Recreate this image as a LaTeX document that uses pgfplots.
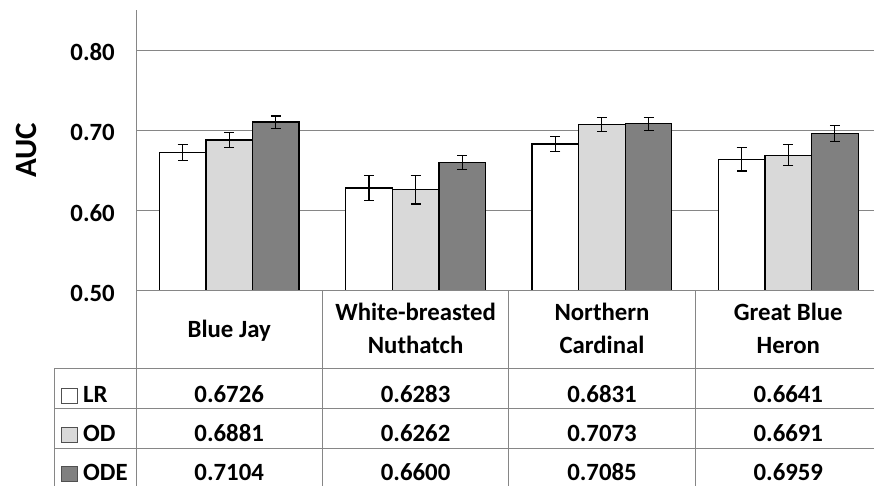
\documentclass[border=0pt]{standalone}
\usepackage{pgfplots}
\pgfplotsset{compat=1.18}
\usepackage{pgfplotstable}
\usepackage{fontspec}
\setmainfont{Carlito}
\definecolor{gridc}{RGB}{134,134,134}
\definecolor{odc}{RGB}{217,217,217}
\definecolor{odec}{RGB}{128,128,128}
\definecolor{keyc}{RGB}{80,80,80}
\pgfplotstableread{
x LR LRe OD ODe ODE ODEe
0 0.6726 0.0098 0.6881 0.0090 0.7104 0.0075
1 0.6283 0.0154 0.6262 0.0178 0.6600 0.0085
2 0.6831 0.0091 0.7073 0.0091 0.7085 0.0081
3 0.6641 0.0146 0.6691 0.0131 0.6959 0.0098
}\data
\newcommand{\tf}{\fontsize{24.8}{29}\selectfont\bfseries}
\begin{document}
\begin{tikzpicture}[x=1pt,y=1pt]
\begin{axis}[
  at={(136pt,195pt)}, anchor=south west,
  scale only axis, width=745.5pt, height=281pt,
  ybar=0pt, bar width=0.25,
  xmin=-0.5, xmax=3.5, ymin=0.5, ymax=0.85,
  xtick=\empty,
  ytick={0.5,0.6,0.7,0.8},
  yticklabels={0.50,0.60,0.70,0.80},
  ymajorgrids, major grid style={draw=gridc, line width=1pt},
  major tick length=0pt,
  axis x line*=bottom, axis y line*=left,
  axis line style={draw=gridc, line width=1pt, -},
  yticklabel style={font=\tf, anchor=east, inner sep=0pt, xshift=-21pt, yshift=-2pt},
  /pgf/number format/assume math mode=true,
  ylabel={AUC},
  every axis y label/.style={at={(rel axis cs:0,0.5)}, xshift=-110pt, rotate=90, anchor=center, font=\fontsize{31}{36}\selectfont\bfseries},
  every axis plot/.append style={draw=black, line width=1.3pt},
  error bars/y dir=both, error bars/y explicit,
  error bars/error bar style={line width=1.1pt, black},
  error bars/error mark options={line width=1.1pt, mark size=5pt, black, rotate=90},
]
\addplot[fill=white] table[x=x, y=LR, y error=LRe]{\data};
\addplot[fill=odc] table[x=x, y=OD, y error=ODe]{\data};
\addplot[fill=odec] table[x=x, y=ODE, y error=ODEe]{\data};
\end{axis}
% data table below the chart
\begin{scope}[draw=gridc, line width=1pt]
\draw (136,195) -- (881.5,195);
\draw (54,117) -- (881.5,117);
\draw (54,77) -- (881.5,77);
\draw (54,37) -- (881.5,37);
\draw (54,-3) -- (881.5,-3);
\draw (54,117) -- (54,-3);
\draw (136,195) -- (136,-3);
\draw (322.4,195) -- (322.4,-3);
\draw (508.8,195) -- (508.8,-3);
\draw (695.1,195) -- (695.1,-3);
\draw (881.5,195) -- (881.5,-3);
\end{scope}
\begin{scope}[every node/.style={font=\tf, inner sep=0pt, anchor=base}]
\node at (229.2,148) {Blue Jay};
\node at (415.6,165) {White-breasted};
\node at (415.6,132) {Nuthatch};
\node at (602.0,165) {Northern};
\node at (602.0,132) {Cardinal};
\node at (788.3,165) {Great Blue};
\node at (788.3,132) {Heron};
\node at (229.2,83) {0.6726};
\node at (415.6,83) {0.6283};
\node at (602.0,83) {0.6831};
\node at (788.3,83) {0.6641};
\node at (229.2,44) {0.6881};
\node at (415.6,44) {0.6262};
\node at (602.0,44) {0.7073};
\node at (788.3,44) {0.6691};
\node at (229.2,5) {0.7104};
\node at (415.6,5) {0.6600};
\node at (602.0,5) {0.7085};
\node at (788.3,5) {0.6959};
\node[anchor=base west] at (83,83) {LR};
\node[anchor=base west] at (83,44) {OD};
\node[anchor=base west] at (83,5) {ODE};
\end{scope}
\draw[keyc, line width=0.8pt, fill=white] (61,83) rectangle (77,98);
\draw[keyc, line width=0.8pt, fill=odc] (61,44) rectangle (77,59);
\draw[keyc, line width=0.8pt, fill=odec] (61,5) rectangle (77,20);
\pgfresetboundingbox
\path[use as bounding box] (0,0) rectangle (874,486);
\end{tikzpicture}
\end{document}
